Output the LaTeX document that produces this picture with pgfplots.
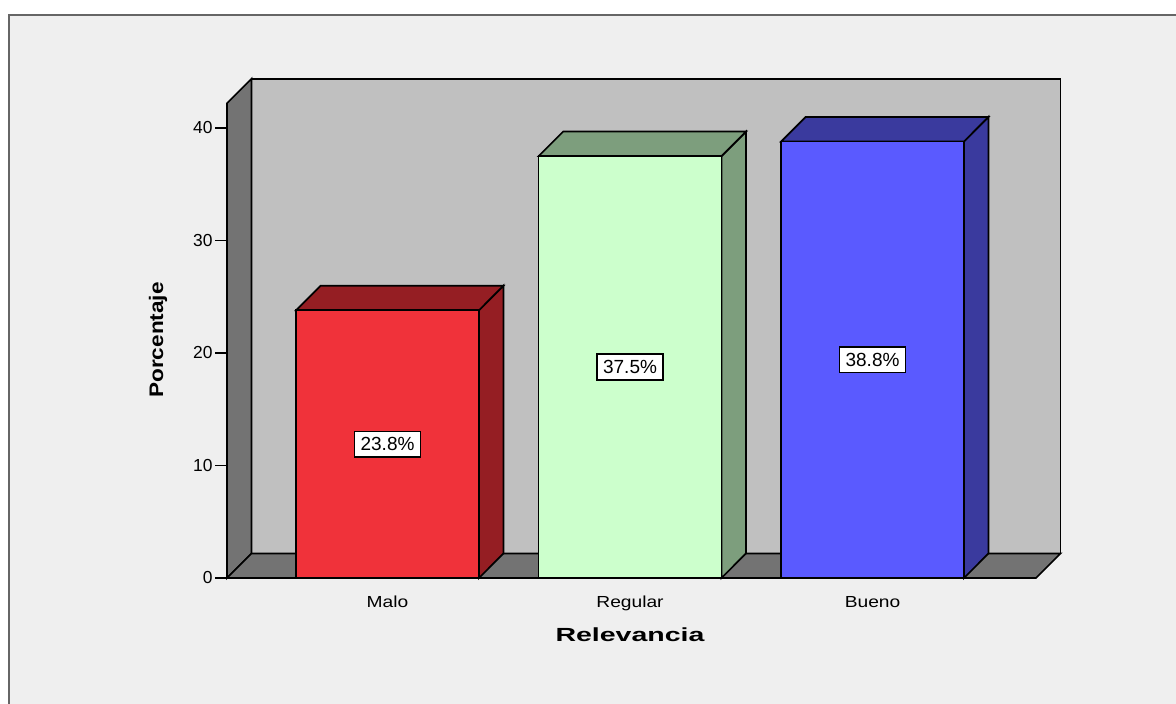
\documentclass[border=0pt]{standalone}
\usepackage{pgfplots}
\pgfplotsset{compat=1.18}
\usepackage{fontspec}
\setmainfont{Liberation Sans}

\definecolor{panel}{HTML}{EFEFEF}
\definecolor{wall}{HTML}{C0C0C0}
\definecolor{wallside}{HTML}{737373}
\definecolor{malo}{HTML}{F0323A}
\definecolor{malod}{HTML}{951E23}
\definecolor{regular}{HTML}{CCFFCC}
\definecolor{regulard}{HTML}{7D9E7D}
\definecolor{bueno}{HTML}{5A5AFF}
\definecolor{buenod}{HTML}{3A3A9E}

% depth of the 3D effect in axis units
\def\dx{0.101}
\def\dy{2.18}

\begin{document}
\begin{tikzpicture}
% page: 1176x704 px at 0.5pt per px
\path[use as bounding box] (0,0) rectangle (588pt,-352pt);
\begin{scope}
  \clip (0,0) rectangle (588pt,-352pt);
  \fill[white] (0,0) rectangle (588pt,-352pt);
  \filldraw[fill=panel, draw=black!60, line width=1pt] (4.5pt,-7.5pt) rectangle (600pt,-365pt);
\end{scope}

\begin{axis}[
  at={(113.5pt,-289pt)}, anchor=south west,
  x=121.25pt, y=5.625pt,
  xmin=-0.662, xmax=2.674, ymin=0, ymax=42.2,
  clip=false,
  axis line style={draw=none},
  xtick={0,1,2},
  xticklabels={Malo,Regular,Bueno},
  xtick style={draw=none},
  xticklabel style={font=\fontsize{8}{10}\selectfont, yshift=0.5pt, xscale=1.2},
  ytick={0,10,20,30,40},
  ytick pos=left,
  tick align=outside,
  major tick length=6pt,
  ytick style={black, line width=0.85pt},
  yticklabel style={font=\fontsize{8.7}{10}\selectfont, inner sep=1pt},
  /pgf/number format/assume math mode=true,
  every axis plot/.append style={draw=black, line width=0.85pt},
]
% walls
\filldraw[fill=wall, draw=black, line width=0.85pt]
  (axis cs:-0.662+\dx,\dy) rectangle (axis cs:2.674+\dx,42.2+\dy);
\filldraw[fill=wallside, draw=black, line width=0.85pt]
  (axis cs:-0.662,0) -- (axis cs:-0.662+\dx,\dy) -- (axis cs:-0.662+\dx,42.2+\dy) -- (axis cs:-0.662,42.2) -- cycle;
\filldraw[fill=wallside, draw=black, line width=0.85pt]
  (axis cs:-0.662,0) -- (axis cs:2.674,0) -- (axis cs:2.674+\dx,\dy) -- (axis cs:-0.662+\dx,\dy) -- cycle;

% Malo 23.8
\addplot[fill=malod] coordinates {(0.377,0) (0.478,2.18) (0.478,25.98) (0.377,23.8)} -- cycle;
\addplot[fill=malod] coordinates {(-0.377,23.8) (-0.276,25.98) (0.478,25.98) (0.377,23.8)} -- cycle;
% Regular 37.5
\addplot[fill=regulard] coordinates {(1.377,0) (1.478,2.18) (1.478,39.68) (1.377,37.5)} -- cycle;
\addplot[fill=regulard] coordinates {(0.623,37.5) (0.724,39.68) (1.478,39.68) (1.377,37.5)} -- cycle;
% Bueno 38.8
\addplot[fill=buenod] coordinates {(2.377,0) (2.478,2.18) (2.478,40.98) (2.377,38.8)} -- cycle;
\addplot[fill=buenod] coordinates {(1.623,38.8) (1.724,40.98) (2.478,40.98) (2.377,38.8)} -- cycle;

\pgfplotsset{
  frontbar/.style={
    ybar, bar width=91.5pt, bar shift=0pt,
    visualization depends on=rawy\as\rawy,
    nodes near coords={\pgfmathprintnumber[fixed,fixed zerofill,precision=1]{\pgfplotspointmeta}\%},
    nodes near coords style={fill=white, draw=black, line width=0.85pt,
      font=\fontsize{9.5}{11}\selectfont, anchor=center,
      inner xsep=3pt, inner ysep=3pt, yshift=-\rawy*2.8125pt},
  },
}
\addplot[frontbar, fill=malo] coordinates {(0,23.8)};
\addplot[frontbar, fill=regular] coordinates {(1,37.5)};
\addplot[frontbar, fill=bueno] coordinates {(2,38.8)};
\end{axis}

\begin{scope}[x=0.5pt, y=-0.5pt]
  \node[font=\bfseries\fontsize{9.5}{11}\selectfont, xscale=1.5] at (630,635) {Relevancia};
  \node[font=\bfseries\fontsize{9.8}{11}\selectfont, rotate=90, xscale=1.15] at (158,340) {Porcentaje};
\end{scope}
\end{tikzpicture}
\end{document}
